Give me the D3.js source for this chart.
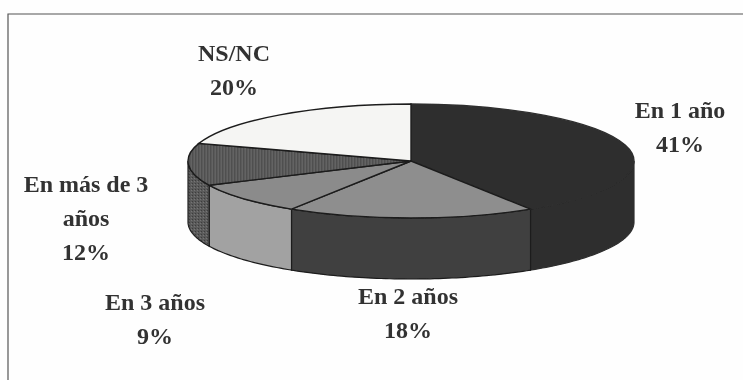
<!DOCTYPE html>
<html>
<head>
<meta charset="utf-8">
<script src="https://cdn.jsdelivr.net/npm/d3@7"></script>
<style>
html, body { margin: 0; padding: 0; background: #fefefe; }
svg { display: block; }
text { font-family: "Liberation Serif", serif; font-weight: bold; font-size: 24px; fill: #333; text-anchor: middle; }
</style>
</head>
<body>
<div id="chart"></div>
<script>
const categories = ["En 1 año", "En 2 años", "En 3 años", "En más de 3 años", "NS/NC"];
const values = [41, 18, 9, 12, 20];
const labelLines = [["En 1 año"], ["En 2 años"], ["En 3 años"], ["En más de 3", "años"], ["NS/NC"]];
const topColors = ["#2e2e2e", "#8e8e8e", "#8b8b8b", "url(#grain)", "#f5f5f3"];
const wallColors = ["#2e2e2e", "#414141", "#a2a2a2", "url(#grain)", "#f5f5f3"];
const edgeColors = ["#2e2e2e", "#1c1c1c", "#1c1c1c", "#1c1c1c", "#1c1c1c"];

const width = 743, height = 380;
const cx = 411, cy = 161, rx = 223, ry = 57, depth = 61;

const svg = d3.select("#chart").append("svg")
    .attr("width", width)
    .attr("height", height);

const defs = svg.append("defs");

// dark speckled fill of the "más de 3 años" slice
const grain = defs.append("pattern")
    .attr("id", "grain")
    .attr("width", 3).attr("height", 3)
    .attr("patternUnits", "userSpaceOnUse");
grain.append("rect").attr("width", 3).attr("height", 3).attr("fill", "#5a5a5a");
grain.append("rect").attr("width", 1).attr("height", 1).attr("fill", "#3c3c3c");
grain.append("rect").attr("x", 2).attr("y", 1).attr("width", 1).attr("height", 1).attr("fill", "#747474");

// soft edges of the scan
defs.append("filter").attr("id", "soft")
    .append("feGaussianBlur").attr("stdDeviation", 0.55);

// frame: top and left rules only
svg.append("path")
    .attr("d", d3.line()([[8, height], [8, 14], [width, 14]]))
    .attr("fill", "none")
    .attr("stroke", "#555")
    .attr("stroke-width", 1.2)
    .attr("filter", "url(#soft)");

const pie = d3.pie().value(d => d).sort(null);
const slices = pie(values);

const arcGen = d3.arc().innerRadius(0).outerRadius(rx);

// flatten the circle into the tilted ellipse
const xAt = a => cx + rx * Math.sin(a);
const yAt = a => cy - ry * Math.cos(a);
const line = d3.line();

const chart = svg.append("g").attr("filter", "url(#soft)");

// side walls: only the front half of the rim is visible
function wallPath(start, end) {
    const a0 = Math.max(start, Math.PI / 2);
    const a1 = Math.min(end, Math.PI * 1.5);
    if (a1 <= a0) return null;
    const steps = d3.range(a0, a1, 0.02).concat([a1]);
    const upper = steps.map(a => [xAt(a), yAt(a)]);
    const lower = steps.slice().reverse().map(a => [xAt(a), yAt(a) + depth]);
    return line(upper.concat(lower)) + "Z";
}

chart.selectAll("path.wall")
    .data(slices)
    .enter()
    .append("path")
    .attr("class", "wall")
    .attr("d", d => wallPath(d.startAngle, d.endAngle))
    .attr("fill", (d, i) => wallColors[i])
    .attr("stroke", (d, i) => edgeColors[i])
    .attr("stroke-width", 1.2);

chart.selectAll("path.top")
    .data(slices)
    .enter()
    .append("path")
    .attr("class", "top")
    .attr("d", arcGen)
    .attr("transform", "translate(" + cx + "," + cy + ") scale(1," + (ry / rx) + ")")
    .attr("fill", (d, i) => topColors[i])
    .attr("stroke", (d, i) => edgeColors[i])
    .attr("stroke-width", 1.4)
    .attr("vector-effect", "non-scaling-stroke");

const labelPos = [
    [680, 118],
    [408, 304],
    [155, 310],
    [86, 192],
    [234, 61]
];

const labels = svg.selectAll("text.label")
    .data(categories)
    .enter()
    .append("text")
    .attr("class", "label")
    .attr("x", (d, i) => labelPos[i][0])
    .attr("y", (d, i) => labelPos[i][1])
    .attr("filter", "url(#soft)");

labels.each(function (d, i) {
    const lines = labelLines[i].concat([values[i] + "%"]);
    d3.select(this).selectAll("tspan")
        .data(lines)
        .enter()
        .append("tspan")
        .attr("x", labelPos[i][0])
        .attr("dy", (t, j) => j === 0 ? 0 : 34)
        .text(t => t);
});
</script>
</body>
</html>
